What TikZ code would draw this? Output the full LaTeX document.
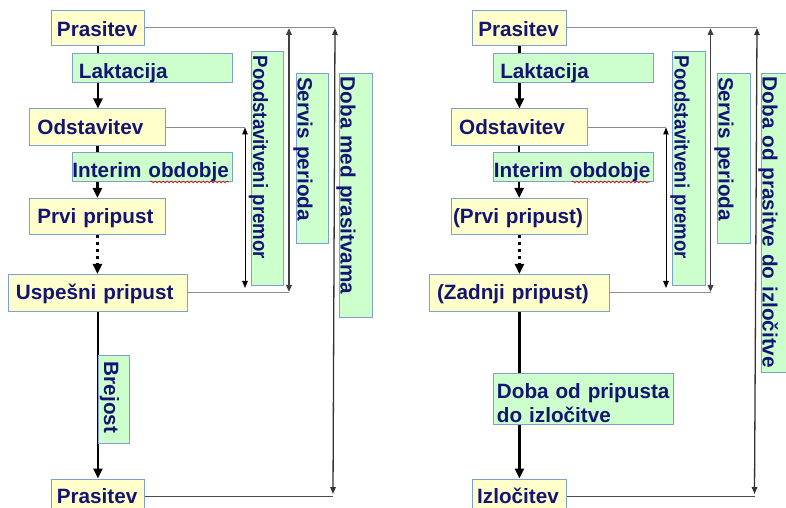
\documentclass[tikz,border=0pt]{standalone}
\usepackage{fontspec}
\setmainfont{Liberation Sans}
\usepackage{graphicx}
\usetikzlibrary{arrows.meta,backgrounds,decorations.pathmorphing}

\definecolor{ink}{RGB}{20,20,115}
\definecolor{edge}{HTML}{7F9FCF}
\definecolor{yfill}{HTML}{FFFFCC}
\definecolor{gfill}{HTML}{CCFFCC}
\definecolor{leadgray}{HTML}{8C8C8C}

\tikzset{
  % box geometry: width, height, left padding, baseline offset from the top
  hb/.code n args={4}{%
    \pgfmathsetmacro\boxtw{#1-2*#3}%
    \pgfmathsetmacro\boxtd{#2-#4}%
    \pgfkeysalso{minimum width=#1bp, minimum height=#2bp, inner xsep=#3bp,
      text width=\boxtw bp, text height=#4bp, text depth=\boxtd bp}},
  lbl/.style={draw=edge, line width=0.9bp, text=ink, inner ysep=0pt,
    font=\fontsize{20.7bp}{24bp}\selectfont\bfseries, align=left,
    anchor=north west},
  ybox/.style={lbl, fill=yfill},
  gbox/.style={lbl, fill=gfill},
  vbox/.style={gbox, rotate=-90},
  flow/.style={line width=2.6bp, -{Triangle[width=9bp,length=10bp]}},
  dotflow/.style={flow, dash pattern=on 3bp off 4bp},
  leader/.style={leadgray, line width=0.9bp},
  span/.style={line width=1bp, {Triangle[width=5.5bp,length=7bp]}-{Triangle[width=5.5bp,length=7bp]}},
  spanthick/.style={span, black!75, line width=1.8bp},
  spanmid/.style={span, black!80, line width=1.3bp},
  spell/.style={red!85!black, line width=0.6bp, decorate,
    decoration={snake, amplitude=0.9bp, segment length=4bp}}
}

\begin{document}
\begin{tikzpicture}[x=1bp,y=-1bp]
\path[use as bounding box] (0,0) rectangle (786,508);
\clip (0,0) rectangle (786,508);

% ---------------- pig cycle: farrowing to farrowing ----------------
\node[ybox, hb={93}{35}{5.5}{25.7}] (p1) at (51,10) {Prasitev};
\node[gbox, hb={160}{29}{6.5}{25.3}] (lak) at (72,53) {Laktacija};
\node[ybox, hb={136}{37}{8}{25.5}] (o1) at (29,108.5) {Odstavitev};
\node[gbox, hb={160}{29}{0}{24.2}] (int) at (72,152.5) {Interim obdobje};
\node[ybox, hb={136}{36.5}{7.8}{24.7}] (pr1) at (29,198) {Prvi pripust};
\node[ybox, hb={179}{36.5}{7.5}{25.3}] (u1) at (8,274) {Uspešni pripust};
\node[vbox, hb={88}{31}{6.5}{25.5}] (brej) at (130,355) {Brejost};
\node[ybox, hb={93}{35}{5.3}{25}] (p2) at (51,478.5) {Prasitev};

\node[vbox, hb={234}{32}{4.5}{30.5}] (pood) at (284,51)
  {\scalebox{0.9}[1]{Poodstavitveni premor}};
\node[vbox, hb={170}{32}{3.6}{31}] (serv) at (329,73) {Servis perioda};
\node[vbox, hb={244}{33}{3.5}{32}] (dmp) at (373,73) {Doba med prasitvama};

\coordinate (pt1) at (245,127.5);
\coordinate (pb1) at (245,288);
\coordinate (st1) at (289,28);
\coordinate (sb1) at (289,292);
\coordinate (dt1) at (335,28);
\coordinate (db1) at (333,494);

\draw[spell] (150,182) -- (229,182);

% ---------------- pig cycle: farrowing to culling ----------------
\node[ybox, hb={94}{35}{5.8}{25.7}] (p1r) at (472,10) {Prasitev};
\node[gbox, hb={160}{29}{6.8}{25.3}] (lakr) at (493,53) {Laktacija};
\node[ybox, hb={136}{37}{8}{25.5}] (o1r) at (450.7,108.5) {Odstavitev};
\node[gbox, hb={160}{29}{0.5}{24.2}] (intr) at (493,152.5) {Interim obdobje};
\node[ybox, hb={136}{36.5}{1.6}{24.7}] (pr1r) at (451,198) {(Prvi pripust)};
\node[ybox, hb={180}{36.5}{7.6}{25.3}] (u1r) at (429,274) {(Zadnji pripust)};
\node[gbox, hb={180}{51}{3.5}{24.4}] (dopr) at (493,373.3)
  {\mbox{Doba od pripusta}\\\mbox{do izločitve}};
\node[ybox, hb={94}{35}{4.7}{25}] (izr) at (472,478.5) {Izločitev};

\node[vbox, hb={234}{33}{4.5}{31}] (poodr) at (706,51)
  {\scalebox{0.9}[1]{Poodstavitveni premor}};
\node[vbox, hb={170}{33}{3.6}{32}] (servr) at (751,73) {Servis perioda};
\node[vbox, hb={299}{33}{3.5}{31.5}] (dpi) at (794.5,73) {\mbox{Doba od prasitve do izločitve}};

\coordinate (pt2) at (666,127.5);
\coordinate (pb2) at (666,288);
\coordinate (st2) at (710.5,28);
\coordinate (sb2) at (710.5,292);
\coordinate (dt2) at (757,28);
\coordinate (db2) at (754.5,494);

\draw[spell] (571.5,182) -- (650,182);

% ---------------- connectors, behind the boxes ----------------
\begin{pgfonlayer}{background}
  \draw[flow] (p1.south) -- (p1.south |- o1.north);
  \draw[flow] (o1.south) -- (o1.south |- pr1.north);
  \draw[dotflow] (pr1.south) -- (pr1.south |- u1.north);
  \draw[flow] (u1.south) -- (u1.south |- p2.north);

  \draw[leader] (p1.east) -- (p1.east -| dt1);
  \draw[leader] (o1.east) -- (o1.east -| pt1);
  \draw[leader] (u1.east) -- (u1.east -| sb1);
  \draw[leader, black!70, line width=1.2bp] (p2.east) -- (p2.east -| db1);
  \draw[span] (pt1) -- (pb1);
  \draw[spanthick] (st1) -- (sb1);
  \draw[spanmid] (dt1) -- (db1);

  \draw[flow] (p1r.south) -- (p1r.south |- o1r.north);
  \draw[flow] (o1r.south) -- (o1r.south |- pr1r.north);
  \draw[dotflow] (pr1r.south) -- (pr1r.south |- u1r.north);
  \draw[flow] (u1r.south) -- (u1r.south |- izr.north);

  \draw[leader] (p1r.east) -- (p1r.east -| dt2);
  \draw[leader] (o1r.east) -- (o1r.east -| pt2);
  \draw[leader] (u1r.east) -- (u1r.east -| sb2);
  \draw[leader, black!70, line width=1.2bp] (izr.east) -- (izr.east -| db2);
  \draw[span] (pt2) -- (pb2);
  \draw[spanthick] (st2) -- (sb2);
  \draw[spanmid] (dt2) -- (db2);
\end{pgfonlayer}
\end{tikzpicture}
\end{document}
